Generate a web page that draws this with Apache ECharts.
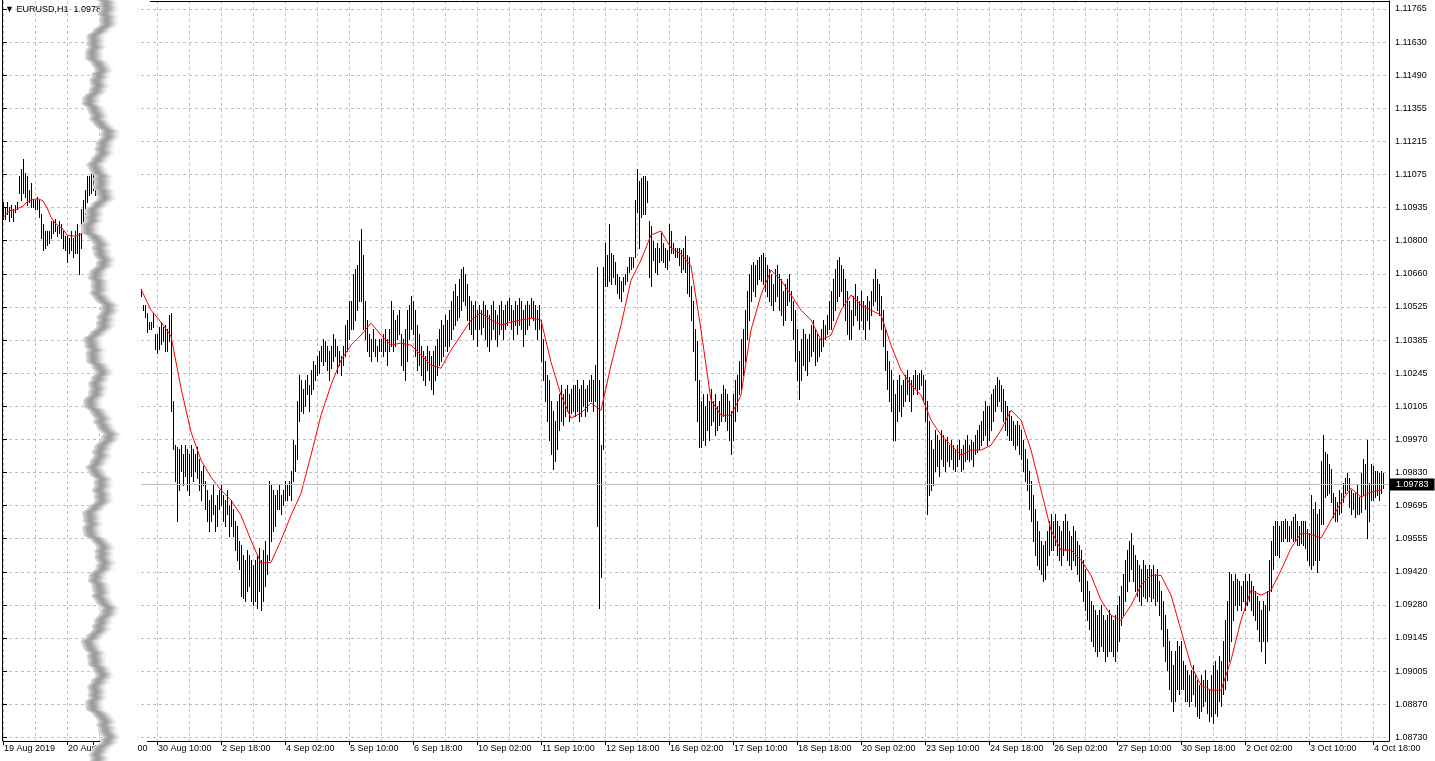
<!DOCTYPE html>
<html><head><meta charset="utf-8">
<script src="https://cdn.jsdelivr.net/npm/echarts@6/dist/echarts.min.js"></script>
<style>html,body{margin:0;padding:0;background:#fff;overflow:hidden}#chart{width:1435px;height:761px}</style>
</head><body><div id="chart"></div>
<script>
// ================= DATA =================
const symbolText = 'EURUSD,H1  1.09783';
const lastPrice = 1.09783;
const yTickLabels = ['1.08730','1.08870','1.09005','1.09145','1.09280','1.09420','1.09555','1.09695','1.09830','1.09970','1.10105','1.10245','1.10385','1.10525','1.10660','1.10800','1.10935','1.11075','1.11215','1.11355','1.11490','1.11630','1.11765'];
const leftTimeLabels = ['19 Aug 2019','20 Aug 08:00'];
const mainTimeLabels = ['29 Aug 02:00','30 Aug 10:00','2 Sep 18:00','4 Sep 02:00','5 Sep 10:00','6 Sep 18:00','10 Sep 02:00','11 Sep 10:00','12 Sep 18:00','16 Sep 02:00','17 Sep 10:00','18 Sep 18:00','20 Sep 02:00','23 Sep 10:00','24 Sep 18:00','26 Sep 02:00','27 Sep 10:00','30 Sep 18:00','2 Oct 02:00','3 Oct 10:00','4 Oct 18:00'];

// left (earlier) section, hourly bars from 19 Aug 2019 00:00
const leftHigh = [1.1096,1.1094,1.1096,1.1094,1.1095,1.1093,1.1095,1.1096,1.1107,1.1110,1.1114,1.1108,1.1107,1.1101,1.1104,1.1097,1.1097,1.1098,1.1097,1.1091,1.1087,1.1084,1.1084,1.1084,1.1088,1.1088,1.1089,1.1086,1.1088,1.1087,1.1084,1.1082,1.1082,1.1081,1.1084,1.1081,1.1084,1.1087,1.1083,1.1093,1.1097,1.1101,1.1107,1.1107,1.1109,1.1110,1.1109];
const leftLow  = [1.1089,1.1089,1.1091,1.1088,1.1090,1.1088,1.1092,1.1093,1.1100,1.1097,1.1100,1.1098,1.1095,1.1096,1.1094,1.1094,1.1093,1.1093,1.1090,1.1081,1.1076,1.1077,1.1078,1.1079,1.1081,1.1083,1.1084,1.1082,1.1083,1.1081,1.1077,1.1076,1.1071,1.1075,1.1076,1.1073,1.1075,1.1075,1.1066,1.1077,1.1088,1.1091,1.1096,1.1099,1.1100,1.1101,1.1099];
const leftMA = [1.10894,1.10915,1.10927,1.10927,1.10936,1.10944,1.10961,1.10969,1.10973,1.10973,1.10965,1.10936,1.10898,1.10873,1.10861,1.10848,1.10823,1.10819,1.10819,1.10823,1.10831,1.10848,1.10869,1.10894];

// main section, hourly bars from 30 Aug 2019 02:00 to 4 Oct 2019 23:00
const mainHigh = [
1.1060,1.1053,1.1053,1.1050,1.1046,1.1046,1.1050,1.1041,1.1041,1.1044,1.1046,1.1044,1.1045,1.1043,1.1049,1.1050,1.1013,1.0995,1.0994,1.0993,1.0995,1.0991,1.0995,1.0993,
1.0991,1.0995,1.0993,1.0991,1.0994,1.0989,1.0984,1.0986,1.0980,1.0976,1.0972,1.0974,1.0978,1.0970,1.0974,1.0976,
1.0978,1.0974,1.0972,1.0976,1.0970,1.0972,1.0968,1.0963,1.0961,1.0955,1.0953,1.0949,1.0947,1.0951,1.0949,1.0947,
1.0945,1.0947,1.0949,1.0952,1.0947,1.0951,1.0955,1.0949,1.0980,1.0978,1.0976,1.0974,1.0976,1.0978,1.0974,1.0976,
1.0980,1.0978,1.0980,1.0984,1.0997,1.0995,1.1013,1.1024,1.1022,1.1018,1.1022,1.1024,1.1020,1.1026,1.1030,1.1028,
1.1032,1.1034,1.1036,1.1039,1.1038,1.1036,1.1034,1.1036,1.1041,1.1039,1.1036,1.1034,1.1032,1.1036,1.1045,1.1047,
1.1055,1.1055,1.1066,1.1068,1.1070,1.1080,1.1085,1.1074,1.1055,1.1047,1.1041,1.1039,1.1043,1.1039,1.1036,1.1039,
1.1039,1.1041,1.1043,1.1039,1.1043,1.1055,1.1051,1.1047,1.1049,1.1051,1.1041,1.1039,1.1043,1.1051,1.1053,1.1057,
1.1055,1.1051,1.1045,1.1041,1.1036,1.1034,1.1032,1.1036,1.1034,1.1032,1.1034,1.1036,1.1039,1.1043,1.1047,1.1045,
1.1049,1.1047,1.1051,1.1055,1.1059,1.1062,1.1057,1.1064,1.1068,1.1069,1.1066,1.1062,1.1057,1.1055,1.1053,1.1055,
1.1051,1.1053,1.1051,1.1055,1.1053,1.1051,1.1049,1.1053,1.1055,1.1051,1.1049,1.1053,1.1055,1.1051,1.1053,1.1055,
1.1056,1.1053,1.1051,1.1055,1.1053,1.1056,1.1055,1.1051,1.1053,1.1055,1.1053,1.1056,1.1055,1.1053,1.1051,1.1053,
1.1047,1.1039,1.1030,1.1024,1.1022,1.1013,1.1009,1.1005,1.1013,1.1016,1.1020,1.1016,1.1018,1.1020,1.1016,1.1018,
1.1020,1.1020,1.1022,1.1018,1.1020,1.1022,1.1018,1.1020,1.1022,1.1024,1.1022,1.1028,
1.1069,1.1022,1.0995,1.1069,1.1079,1.1074,1.1087,1.1075,1.1074,1.1071,1.1066,1.1065,1.1063,1.1065,1.1066,1.1069,
1.1073,1.1073,1.1073,1.1097,1.1110,1.1105,1.1106,1.1107,1.1107,1.1105,1.1088,1.1086,1.1080,1.1077,1.1079,1.1077,
1.1083,1.1079,1.1077,1.1076,1.1087,1.1084,1.1079,1.1077,1.1077,1.1077,1.1076,1.1077,1.1082,1.1074,1.1073,1.1061,
1.1055,1.1043,1.1038,1.1022,
1.1013,1.1016,1.1011,1.1016,1.1013,1.1018,1.1013,1.1016,1.1011,1.1013,1.1016,1.1020,1.1018,1.1016,1.1013,1.1009,
1.1016,1.1022,1.1024,1.1030,1.1039,1.1043,1.1051,1.1059,1.1066,1.1070,1.1071,1.1070,1.1072,1.1073,1.1074,1.1075,
1.1073,1.1070,1.1068,1.1066,1.1062,1.1068,1.1070,1.1066,1.1064,1.1059,1.1062,1.1064,1.1066,1.1059,1.1055,1.1051,
1.1043,1.1034,1.1039,1.1043,1.1041,1.1039,1.1041,1.1045,1.1047,1.1043,1.1041,1.1039,1.1043,1.1047,1.1045,1.1049,
1.1055,1.1059,1.1064,1.1068,1.1072,1.1073,1.1070,1.1068,1.1064,1.1059,1.1055,1.1051,1.1057,1.1062,1.1057,1.1055,
1.1059,1.1055,1.1053,1.1057,1.1055,1.1059,1.1064,1.1068,1.1064,1.1062,1.1057,1.1051,1.1043,1.1034,1.1030,1.1026,
1.1022,1.1016,1.1022,1.1024,1.1020,1.1022,1.1024,1.1026,1.1023,1.1022,1.1024,1.1026,1.1024,1.1025,1.1026,1.1024,
1.1022,1.1013,1.1005,1.0997,1.0993,1.1001,1.0999,1.0997,1.1001,1.0999,1.0997,1.0998,1.0995,1.0997,1.0995,1.0993,
1.0995,1.0997,1.0993,1.0995,1.0997,1.0999,1.0995,1.0997,1.0996,1.0999,1.1001,1.1003,1.1005,1.1009,1.1013,1.1011,
1.1011,1.1016,1.1018,1.1020,1.1023,1.1022,1.1020,1.1018,1.1013,1.1011,1.1009,1.1007,1.1005,1.1003,1.1005,1.1003,
1.1001,1.0997,1.0993,1.0989,1.0984,1.0980,1.0974,1.0968,1.0963,1.0959,1.0955,1.0953,1.0955,1.0959,1.0963,1.0966,
1.0963,1.0966,1.0963,1.0961,1.0959,1.0963,1.0966,1.0963,1.0959,1.0957,1.0961,1.0959,1.0955,1.0953,1.0951,1.0947,
1.0943,1.0938,1.0934,1.0930,1.0928,1.0926,1.0924,1.0926,1.0928,1.0924,1.0922,1.0924,1.0926,1.0924,1.0922,1.0924,
1.0928,1.0932,1.0936,1.0941,1.0947,1.0951,1.0955,1.0958,1.0953,1.0949,1.0947,1.0945,1.0943,1.0947,1.0945,1.0943,
1.0945,1.0943,1.0945,1.0941,1.0943,1.0938,1.0934,1.0930,1.0924,1.0918,1.0913,1.0909,1.0903,1.0909,1.0913,1.0911,
1.0913,1.0905,1.0903,1.0901,1.0899,1.0901,1.0903,1.0899,1.0897,1.0895,1.0899,1.0897,1.0901,1.0897,1.0893,1.0899,
1.0903,1.0905,1.0901,1.0907,1.0905,1.0913,1.0922,1.0930,1.0942,1.0941,1.0938,1.0941,1.0939,1.0938,1.0936,1.0938,
1.0941,1.0938,1.0941,1.0938,1.0936,1.0934,1.0932,1.0930,1.0926,1.0930,1.0928,1.0934,1.0947,1.0955,1.0961,1.0963,
1.0963,1.0961,
1.0963,1.0963,1.0964,1.0963,1.0961,1.0963,1.0965,1.0966,1.0963,1.0961,1.0963,1.0963,1.0963,1.0960,1.0958,1.0974,
1.0968,1.0971,1.0966,1.0968,1.0988,1.0999,1.0992,1.0991,1.0987,1.0985,1.0975,1.0973,1.0971,1.0976,1.0975,1.0979,
1.0981,1.0983,1.0981,1.0976,1.0975,1.0975,1.0978,1.0973,1.0983,1.0989,1.0987,1.0997,1.0979,1.0987,1.0986,1.0984,
1.0984,1.0983,1.0984,1.0983];
const mainLow = [
1.1057,1.1051,1.1048,1.1042,1.1043,1.1043,1.1044,1.1035,1.1033,1.1035,1.1037,1.1038,1.1034,1.1034,1.1038,1.1009,1.0993,1.0980,1.0963,1.0976,1.0984,1.0978,1.0982,1.0976,
1.0974,1.0982,1.0980,1.0984,1.0981,1.0976,1.0972,1.0978,1.0968,1.0963,1.0959,1.0963,1.0966,1.0959,1.0961,1.0968,
1.0970,1.0963,1.0961,1.0966,1.0957,1.0961,1.0957,1.0951,1.0947,1.0943,1.0932,1.0931,1.0930,1.0934,1.0936,1.0930,
1.0928,1.0930,1.0927,1.0934,1.0926,1.0930,1.0936,1.0941,1.0947,1.0955,1.0959,1.0961,1.0968,1.0968,1.0966,1.0970,
1.0972,1.0972,1.0974,1.0972,1.0980,1.0984,1.0989,1.1005,1.1009,1.1008,1.1011,1.1016,1.1009,1.1016,1.1018,1.1022,
1.1024,1.1025,1.1030,1.1028,1.1030,1.1026,1.1022,1.1027,1.1030,1.1032,1.1025,1.1028,1.1024,1.1028,1.1032,1.1034,
1.1039,1.1043,1.1043,1.1047,1.1051,1.1055,1.1055,1.1043,1.1039,1.1034,1.1032,1.1030,1.1034,1.1032,1.1030,1.1034,
1.1034,1.1032,1.1034,1.1028,1.1034,1.1036,1.1034,1.1036,1.1039,1.1041,1.1028,1.1026,1.1022,1.1030,1.1039,1.1043,
1.1041,1.1032,1.1026,1.1028,1.1024,1.1022,1.1020,1.1026,1.1022,1.1018,1.1016,1.1022,1.1024,1.1028,1.1030,1.1032,
1.1036,1.1034,1.1036,1.1039,1.1043,1.1045,1.1047,1.1048,1.1051,1.1055,1.1053,1.1047,1.1043,1.1041,1.1039,1.1043,
1.1036,1.1043,1.1041,1.1044,1.1039,1.1036,1.1034,1.1039,1.1043,1.1039,1.1036,1.1041,1.1043,1.1039,1.1043,1.1045,
1.1047,1.1043,1.1039,1.1045,1.1041,1.1045,1.1043,1.1036,1.1041,1.1043,1.1045,1.1048,1.1047,1.1043,1.1039,1.1043,
1.1030,1.1022,1.1013,1.1005,1.0997,1.0991,1.0985,1.0988,1.0993,1.1001,1.1005,1.1003,1.1007,1.1009,1.1005,1.1008,
1.1009,1.1007,1.1009,1.1005,1.1007,1.1011,1.1007,1.1009,1.1013,1.1013,1.1009,1.1013,
1.0961,1.0927,1.0940,1.0993,1.1061,1.1061,1.1063,1.1062,1.1065,1.1062,1.1058,1.1056,1.1055,1.1059,1.1062,1.1063,
1.1067,1.1068,1.1069,1.1073,1.1092,1.1077,1.1090,1.1091,1.1091,1.1096,1.1065,1.1061,1.1072,1.1067,1.1066,1.1071,
1.1072,1.1071,1.1069,1.1068,1.1072,1.1075,1.1075,1.1073,1.1073,1.1070,1.1067,1.1068,1.1067,1.1058,1.1057,1.1047,
1.1034,1.1022,1.1005,1.0994,
1.0994,1.0997,1.0995,1.1001,1.0997,1.1003,1.1005,1.0999,1.1001,1.1003,1.1005,1.1007,1.1005,1.1001,1.0997,1.0991,
1.0997,1.1005,1.1009,1.1016,1.1018,1.1024,1.1030,1.1039,1.1047,1.1055,1.1059,1.1057,1.1062,1.1064,1.1063,1.1062,
1.1059,1.1057,1.1055,1.1053,1.1051,1.1055,1.1057,1.1051,1.1049,1.1045,1.1047,1.1053,1.1055,1.1047,1.1039,1.1030,
1.1022,1.1014,1.1022,1.1028,1.1026,1.1024,1.1030,1.1032,1.1034,1.1028,1.1030,1.1032,1.1034,1.1036,1.1039,1.1041,
1.1043,1.1043,1.1047,1.1051,1.1055,1.1057,1.1059,1.1053,1.1047,1.1041,1.1039,1.1039,1.1045,1.1049,1.1047,1.1043,
1.1047,1.1043,1.1039,1.1047,1.1043,1.1049,1.1053,1.1055,1.1051,1.1049,1.1043,1.1036,1.1026,1.1018,1.1013,1.1009,
1.0997,1.0997,1.1005,1.1009,1.1007,1.1011,1.1013,1.1016,1.1013,1.1009,1.1016,1.1018,1.1016,1.1018,1.1020,1.1013,
1.1005,1.0966,1.0974,1.0976,1.0978,1.0984,1.0986,1.0982,1.0989,1.0986,1.0984,1.0988,1.0986,1.0989,1.0985,1.0984,
1.0986,1.0989,1.0984,1.0985,1.0988,1.0989,1.0988,1.0989,1.0986,1.0991,1.0992,1.0993,1.0995,1.0997,1.0999,1.0995,
1.0997,1.1001,1.1005,1.1009,1.1011,1.1013,1.1009,1.1005,1.1001,1.0999,1.0997,1.0997,1.0995,1.0993,1.0995,1.0991,
1.0989,1.0984,1.0980,1.0976,1.0968,1.0963,1.0955,1.0949,1.0945,1.0943,1.0941,1.0938,1.0939,1.0945,1.0949,1.0951,
1.0951,1.0953,1.0949,1.0947,1.0945,1.0949,1.0951,1.0947,1.0945,1.0943,1.0947,1.0945,1.0941,1.0938,1.0934,1.0930,
1.0926,1.0922,1.0918,1.0913,1.0911,1.0909,1.0907,1.0909,1.0911,1.0909,1.0905,1.0907,1.0909,1.0909,1.0907,1.0905,
1.0909,1.0913,1.0920,1.0924,1.0930,1.0934,1.0938,1.0943,1.0938,1.0934,1.0932,1.0930,1.0928,1.0932,1.0931,1.0930,
1.0932,1.0930,1.0931,1.0928,1.0930,1.0924,1.0918,1.0911,1.0905,1.0901,1.0893,1.0888,1.0884,1.0888,1.0893,1.0891,
1.0893,1.0893,1.0888,1.0888,1.0886,1.0888,1.0891,1.0886,1.0882,1.0881,1.0884,1.0886,1.0888,1.0883,1.0880,1.0882,
1.0879,1.0883,1.0882,1.0888,1.0886,1.0891,1.0893,1.0897,1.0905,1.0913,1.0922,1.0928,1.0926,1.0928,1.0926,1.0930,
1.0926,1.0928,1.0930,1.0926,1.0924,1.0922,1.0918,1.0913,1.0909,1.0913,1.0904,1.0913,1.0926,1.0934,1.0943,1.0949,
1.0949,1.0948,
1.0955,1.0955,1.0956,1.0955,1.0955,1.0956,1.0955,1.0955,1.0953,1.0953,1.0954,1.0953,1.0952,1.0947,1.0945,1.0943,
1.0945,1.0947,1.0942,1.0947,1.0962,1.0962,1.0973,1.0974,1.0975,1.0971,1.0965,1.0963,1.0963,1.0966,1.0967,1.0971,
1.0975,1.0976,1.0969,1.0966,1.0968,1.0965,1.0966,1.0966,1.0967,1.0974,1.0968,1.0956,1.0963,1.0972,1.0972,1.0973,
1.0974,1.0972,1.0975,1.0977];
// moving average (red), read every 5 bars from 30 Aug 02:00
const mainMA = [1.10598,1.10510,1.10460,1.10402,1.10185,1.10002,1.09885,1.09814,1.09760,1.09718,1.09655,1.09551,1.09455,1.09459,1.09551,1.09655,1.09747,1.09906,1.10072,1.10198,1.10302,1.10364,1.10406,1.10456,1.10406,1.10364,1.10373,1.10364,1.10323,1.10281,1.10268,1.10344,1.10406,1.10469,1.10498,1.10469,1.10448,1.10460,1.10469,1.10477,1.10469,1.10293,1.10156,1.10060,1.10081,1.10123,1.10093,1.10281,1.10448,1.10635,1.10719,1.10823,1.10840,1.10769,1.10744,1.10694,1.10427,1.10135,1.10072,1.10072,1.10156,1.10427,1.10573,1.10677,1.10635,1.10573,1.10510,1.10469,1.10385,1.10406,1.10510,1.10573,1.10531,1.10510,1.10489,1.10364,1.10260,1.10198,1.10156,1.10052,1.09989,1.09947,1.09906,1.09927,1.09927,1.09947,1.10010,1.10093,1.10052,1.09927,1.09760,1.09593,1.09510,1.09510,1.09468,1.09405,1.09301,1.09239,1.09218,1.09280,1.09364,1.09405,1.09405,1.09322,1.09176,1.09030,1.08947,1.08926,1.08926,1.09051,1.09218,1.09343,1.09322,1.09343,1.09426,1.09518,1.09580,1.09576,1.09560,1.09635,1.09710,1.09768,1.09731,1.09752,1.09760];

// ================= LAYOUT =================
const N = 694, LEFT_K0 = 0, MAIN_K0 = 69, MAIN_LABEL_K0 = 45, LABEL_STEP = 32, GRID_STEP = 16;
const LEFT_MA_STEP = 2, MAIN_MA_STEP = 5;
const TICK_TOP_PX = 9, TICK_BOTTOM_PX = 737.3, PLOT_TOP_PX = 1, PLOT_BOTTOM_PX = 741;
const GRID_LEFT = 3, GRID_RIGHT = 46;
const FONT = '"Liberation Sans", Arial, sans-serif';
const topTick = parseFloat(yTickLabels[yTickLabels.length - 1]);
const botTick = parseFloat(yTickLabels[0]);
const ppx = (topTick - botTick) / (TICK_BOTTOM_PX - TICK_TOP_PX);
const yMax = topTick + (TICK_TOP_PX - PLOT_TOP_PX) * ppx;
const yMin = botTick - (PLOT_BOTTOM_PX - TICK_BOTTOM_PX) * ppx;

const cats = new Array(N).fill('');
leftTimeLabels.forEach((t, i) => { cats[LEFT_K0 + LABEL_STEP * i] = t; });
mainTimeLabels.forEach((t, i) => { cats[MAIN_LABEL_K0 + LABEL_STEP * i] = t; });

const barData = [];
leftHigh.forEach((h, i) => barData.push([LEFT_K0 + i, h, leftLow[i]]));
mainHigh.forEach((h, i) => barData.push([MAIN_K0 + i, h, mainLow[i]]));

const leftMAData = leftMA.map((v, i) => [LEFT_K0 + LEFT_MA_STEP * i, v]);
const mainMAData = mainMA.map((v, i) => [MAIN_K0 + MAIN_MA_STEP * i, v]);

const splitFn = (idx) => idx < 56 ? (idx - LEFT_K0) % GRID_STEP === 0 : (idx - MAIN_LABEL_K0) % GRID_STEP === 0;
const labelFn = (idx, val) => val !== '';

// torn-paper decoration between the two sections
function edgeX(y) {
  return 91 + 5.5 * Math.sin(y * 0.105) + 4 * Math.sin(y * 0.043 + 1.3) + 2.2 * Math.sin(y * 0.29 + 0.7) + 1.2 * Math.sin(y * 0.83);
}
const shades = ['#d8d8d8','#c4c4c4','#b0b0b0','#a2a2a2','#9c9c9c','#a0a0a0','#acacac','#bcbcbc','#cecece','#e0e0e0','#eeeeee','#f8f8f8','#ffffff'];
const COVER_RIGHT = 137;
const tearEls = shades.map((c, i) => {
  const pts = [];
  for (let y = -4; y <= 766; y += 3) pts.push([edgeX(y) + i * 1.6, y]);
  pts.push([COVER_RIGHT, 766], [COVER_RIGHT, -4]);
  return { type: 'polygon', shape: { points: pts }, style: { fill: c }, z: 100, silent: true };
});

const chart = echarts.init(document.getElementById('chart'));
chart.setOption({
  animation: false,
  backgroundColor: '#fff',
  textStyle: { fontFamily: FONT },
  title: { text: '\u25BC ' + symbolText, left: 5, top: 5, padding: 0, textStyle: { fontSize: 9, fontWeight: 'normal', color: '#000', fontFamily: FONT } },
  grid: [
    { left: GRID_LEFT, right: GRID_RIGHT, top: PLOT_TOP_PX, bottom: 761 - PLOT_BOTTOM_PX },
    { left: GRID_LEFT, right: GRID_RIGHT, top: TICK_TOP_PX, bottom: 761 - TICK_BOTTOM_PX }
  ],
  xAxis: [
    { gridIndex: 0, type: 'category', data: cats, boundaryGap: false,
      axisLine: { lineStyle: { color: '#000', width: 1 } },
      axisTick: { interval: labelFn, length: 4, lineStyle: { color: '#000' } },
      axisLabel: { interval: labelFn, align: 'left', margin: 3, fontSize: 9, color: '#000', fontFamily: FONT, padding: [0, 0, 0, 1] },
      splitLine: { show: true, interval: splitFn, lineStyle: { color: '#c0c0c0', type: [3, 3], width: 1 } } },
    { gridIndex: 1, type: 'value', show: false, min: 0, max: 1 }
  ],
  yAxis: [
    { gridIndex: 0, type: 'value', min: yMin, max: yMax, position: 'right',
      axisLine: { show: true, lineStyle: { color: '#000' } }, axisTick: { show: false }, axisLabel: { show: false }, splitLine: { show: false } },
    { gridIndex: 1, type: 'value', min: 0, max: yTickLabels.length - 1, interval: 1, position: 'right',
      axisLine: { show: false }, axisTick: { show: true, length: 4, lineStyle: { color: '#000' } },
      axisLabel: { margin: 6, fontSize: 9, color: '#000', fontFamily: FONT, formatter: (v) => yTickLabels[Math.round(v)] },
      splitLine: { show: true, lineStyle: { color: '#c0c0c0', type: [3, 3], width: 1 } } }
  ],
  graphic: { elements: tearEls.concat([
    { type: 'line', shape: { x1: 2.5, y1: 0, x2: 2.5, y2: 741 }, style: { stroke: '#000', lineWidth: 1 }, z: 90 },
    { type: 'line', shape: { x1: 150, y1: 1.5, x2: 1389, y2: 1.5 }, style: { stroke: '#000', lineWidth: 1 }, z: 90 },
    { type: 'rect', shape: { x: 136, y: 738, width: 11, height: 5 }, style: { fill: '#fff' }, z: 101 }
  ]) },
  series: [
    { name: 'bid', type: 'line', xAxisIndex: 0, yAxisIndex: 0, data: [], z: 1, silent: true,
      markLine: { silent: true, symbol: 'none', animation: false,
        lineStyle: { color: '#c0c0c0', type: 'solid', width: 1 },
        label: { show: true, position: 'end', formatter: lastPrice.toFixed(5), color: '#fff', backgroundColor: '#000', padding: [2, 6, 1, 6], fontSize: 9, fontFamily: FONT, distance: 1 },
        data: [[{ coord: [MAIN_K0, lastPrice] }, { coord: [N - 1, lastPrice] }]] } },
    { name: 'bars', type: 'custom', xAxisIndex: 0, yAxisIndex: 0, z: 2, silent: true,
      encode: { x: 0, y: [1, 2] },
      renderItem: function (params, api) {
        const k = api.value(0);
        const p1 = api.coord([k, api.value(1)]);
        const p2 = api.coord([k, api.value(2)]);
        const x = Math.round(p1[0]) + 0.5;
        return { type: 'line', shape: { x1: x, y1: Math.round(p1[1]), x2: x, y2: Math.round(p2[1]) + 1 }, style: { stroke: '#000', lineWidth: 1 } };
      },
      data: barData },
    { name: 'maLeft', type: 'line', xAxisIndex: 0, yAxisIndex: 0, data: leftMAData, showSymbol: false, z: 3, silent: true,
      lineStyle: { color: '#ff0000', width: 1 } },
    { name: 'maMain', type: 'line', xAxisIndex: 0, yAxisIndex: 0, data: mainMAData, showSymbol: false, z: 3, silent: true,
      lineStyle: { color: '#ff0000', width: 1 } }
  ]
});
</script></body></html>
